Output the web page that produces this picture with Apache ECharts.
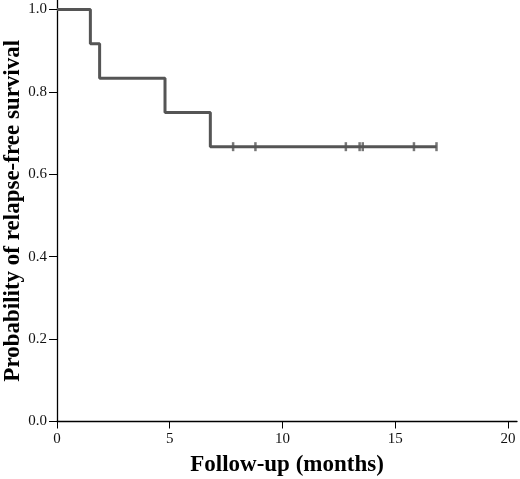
<!DOCTYPE html>
<html>
<head>
<meta charset="utf-8">
<script src="https://cdn.jsdelivr.net/npm/echarts@6/dist/echarts.min.js"></script>
<style>
  html, body { margin: 0; padding: 0; background: #fff; }
  #km { width: 520px; height: 479px; }
</style>
</head>
<body>
<div id="km"></div>
<script>
// Kaplan-Meier step curve: [time (months), survival]
const stepTimes = [0, 1.48, 1.89, 4.79, 6.8, 16.83];
const stepSurv = [1.0, 0.917, 0.833, 0.75, 0.667, 0.667];
// censored observations
const censorTimes = [7.81, 8.8, 12.81, 13.42, 13.56, 15.83, 16.83];
const censorSurv = [0.667, 0.667, 0.667, 0.667, 0.667, 0.667, 0.667];
const xTicks = [0, 5, 10, 15, 20];
const yTicks = [0, 0.2, 0.4, 0.6, 0.8, 1.0];

const curveColor = '#555555';
const font = 'Liberation Serif';

const chart = echarts.init(document.getElementById('km'));
chart.setOption({
    animation: false,
    grid: {left: 57, right: 3, top: 0, bottom: 57.5, outerBoundsMode: 'none', containLabel: false},
    xAxis: {
        type: 'value', min: 0, max: 20.4,
        name: 'Follow-up (months)', nameLocation: 'middle', nameGap: 32, nameMoveOverlap: false,
        nameTextStyle: {fontFamily: font, fontSize: 23, fontWeight: 'bold', color: '#000',
            verticalAlign: 'top'},
        axisLine: {lineStyle: {color: '#000', width: 1.3}},
        axisTick: {length: 7, customValues: xTicks, lineStyle: {color: '#000'}},
        axisLabel: {customValues: xTicks, margin: 10, fontFamily: font, fontSize: 15, color: '#111'},
        splitLine: {show: false}
    },
    yAxis: {
        type: 'value', min: 0, max: 1.023,
        name: 'Probability of relapse-free survival', nameLocation: 'middle', nameGap: 32,
        nameMoveOverlap: false,
        nameTextStyle: {fontFamily: font, fontSize: 23, fontWeight: 'bold', color: '#000'},
        axisLine: {show: true, lineStyle: {color: '#000', width: 1.3}},
        axisTick: {show: true, length: 8, customValues: yTicks, lineStyle: {color: '#000'}},
        axisLabel: {customValues: yTicks, margin: 10, fontFamily: font, fontSize: 15, color: '#111',
            formatter: v => v.toFixed(1)},
        splitLine: {show: false}
    },
    series: [
        {
            type: 'line', step: 'end', symbol: 'none',
            data: stepTimes.map((t, i) => [t, stepSurv[i]]),
            lineStyle: {color: curveColor, width: 3}
        },
        {
            type: 'scatter', symbol: 'rect', symbolSize: [2.5, 9],
            data: censorTimes.map((t, i) => [t, censorSurv[i]]),
            itemStyle: {color: curveColor}
        }
    ]
});
</script>
</body>
</html>
